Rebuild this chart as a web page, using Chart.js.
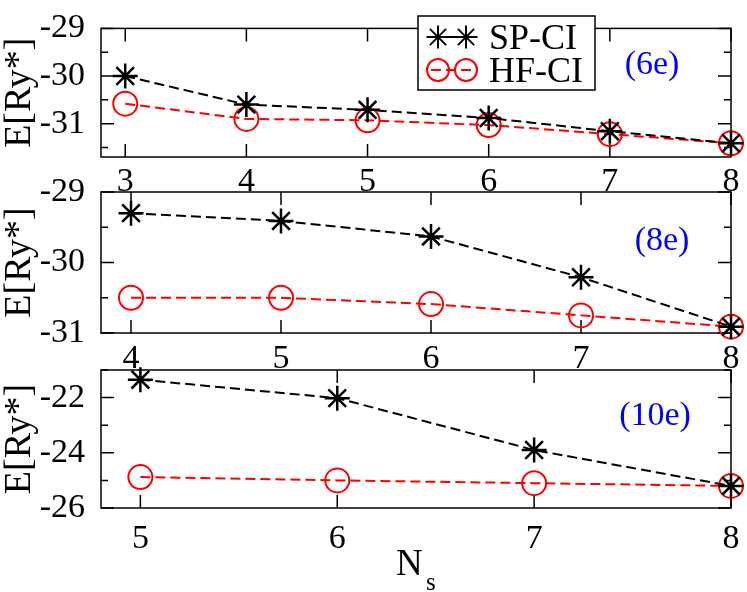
<!DOCTYPE html>
<html>
<head>
<meta charset="utf-8">
<title>SP-CI vs HF-CI</title>
<script src="https://cdn.jsdelivr.net/npm/chart.js@4.4.1/dist/chart.umd.min.js"></script>
<style>
  html, body { margin: 0; padding: 0; background: #fff; }
  #wrap { position: relative; width: 747px; height: 592px; }
  #wrap canvas { position: absolute; left: 0; top: 0; }
</style>
</head>
<body>
<div id="wrap">
  <canvas id="c6" width="747" height="592"></canvas>
  <canvas id="c8" width="747" height="592"></canvas>
  <canvas id="c10" width="747" height="592"></canvas>
</div>
<script>
// ── values ──
// 6 electrons
const ns6  = [3, 4, 5, 6, 7, 8];
const sp6  = [-30.0, -30.6, -30.71, -30.88, -31.16, -31.41];
const hf6  = [-30.58, -30.9, -30.93, -31.03, -31.22, -31.41];
const yMajor6 = [-31, -30, -29];
const yMinor6 = [-31.5, -30.5, -29.5];

// 8 electrons
const ns8  = [4, 5, 6, 7, 8];
const sp8  = [-29.3, -29.41, -29.63, -30.21, -30.91];
const hf8  = [-30.5, -30.5, -30.59, -30.75, -30.91];
const yMajor8 = [-31, -30, -29];
const yMinor8 = [-30.5, -29.5];

// 10 electrons
const ns10 = [5, 6, 7, 8];
const sp10 = [-21.35, -22.02, -23.9, -25.2];
const hf10 = [-24.88, -25.0, -25.1, -25.2];
const yMajor10 = [-26, -24, -22];
const yMinor10 = [-25, -23, -21];

const seriesNames = ['SP-CI', 'HF-CI'];
const yTitle = 'E[Ry*]';

const SERIF = "'Liberation Serif', 'Times New Roman', serif";
const W = 747, H = 592;
const PLOT_LEFT = 101, PLOT_RIGHT = 731;
const X_AXIS_H = 50;

// frame, inward ticks on all four sides, titles, tag and legend
const framePlugin = {
  id: 'frame',
  beforeDatasetsDraw(chart, args, o) {
    const ctx = chart.ctx;
    const { left, right, top, bottom } = chart.chartArea;
    const xs = chart.scales.x, ys = chart.scales.y;
    ctx.save();
    ctx.strokeStyle = '#000';
    ctx.lineWidth = 1.5;
    ctx.strokeRect(left, top, right - left, bottom - top);
    ctx.beginPath();
    xs.ticks.forEach(t => {
      const px = xs.getPixelForValue(t.value);
      ctx.moveTo(px, bottom); ctx.lineTo(px, bottom - 13);
      ctx.moveTo(px, top);    ctx.lineTo(px, top + 13);
    });
    ys.ticks.forEach(t => {
      const py = ys.getPixelForValue(t.value);
      ctx.moveTo(left, py);  ctx.lineTo(left + 13, py);
      ctx.moveTo(right, py); ctx.lineTo(right - 13, py);
    });
    o.minorY.forEach(v => {
      const py = ys.getPixelForValue(v);
      ctx.moveTo(left, py);  ctx.lineTo(left + 7, py);
      ctx.moveTo(right, py); ctx.lineTo(right - 7, py);
    });
    ctx.stroke();
    ctx.restore();
  },
  afterDraw(chart, args, o) {
    const ctx = chart.ctx;
    const { top, bottom } = chart.chartArea;
    ctx.save();

    // y title
    ctx.fillStyle = '#000';
    ctx.font = '38px ' + SERIF;
    ctx.translate(30, (top + bottom) / 2);
    ctx.rotate(-Math.PI / 2);
    ctx.textAlign = 'center';
    ctx.textBaseline = 'alphabetic';
    ctx.fillText(yTitle, 0, 0);
    ctx.rotate(Math.PI / 2);
    ctx.translate(-30, -(top + bottom) / 2);

    // blue tag
    ctx.fillStyle = '#0000ff';
    ctx.font = '34px ' + SERIF;
    ctx.textAlign = 'center';
    ctx.textBaseline = 'middle';
    ctx.fillText(o.tag, o.tagX, o.tagY);

    // x title N_s
    if (o.xTitle) {
      ctx.fillStyle = '#000';
      ctx.textAlign = 'left';
      ctx.textBaseline = 'alphabetic';
      ctx.font = '37px ' + SERIF;
      ctx.fillText('N', 396, 575);
      ctx.font = '25px ' + SERIF;
      ctx.fillText('s', 426, 590);
    }

    // legend box
    if (o.legend) {
      const bx = 418, by = 16, bw = 177, bh = 74;
      ctx.fillStyle = '#fff';
      ctx.fillRect(bx, by, bw, bh);
      ctx.strokeStyle = '#000';
      ctx.lineWidth = 1.5;
      ctx.strokeRect(bx, by, bw, bh);
      const rows = [37, 70];
      chart.data.datasets.forEach((ds, i) => {
        const y = rows[i];
        ctx.save();
        ctx.strokeStyle = ds.borderColor;
        ctx.lineWidth = ds.borderWidth;
        ctx.setLineDash(ds.borderDash);
        ctx.beginPath();
        ctx.moveTo(431, y); ctx.lineTo(474, y);
        ctx.stroke();
        ctx.setLineDash([]);
        ctx.fillStyle = 'rgba(0,0,0,0)';
        [438, 466].forEach(px => {
          Chart.helpers.drawPoint(ctx, {
            pointStyle: ds.pointStyle, radius: ds.pointRadius - 1,
            rotation: 0, borderWidth: ds.pointBorderWidth
          }, px, y);
        });
        ctx.restore();
        ctx.fillStyle = '#000';
        ctx.font = '36px ' + SERIF;
        ctx.textAlign = 'left';
        ctx.textBaseline = 'alphabetic';
        ctx.fillText(ds.label, 489, y + 11.5);
      });
    }
    ctx.restore();
  }
};

function toPoints(xs, ys) {
  return xs.map((x, i) => ({ x, y: ys[i] }));
}

function makePanel(id, p) {
  return new Chart(document.getElementById(id), {
    type: 'line',
    data: {
      datasets: [
        {
          label: seriesNames[0],
          data: toPoints(p.ns, p.sp),
          borderColor: '#000',
          borderWidth: 2,
          borderDash: [10, 5],
          pointStyle: 'star',
          pointRadius: 12.5,
          pointBorderWidth: 2.5,
          pointBorderColor: '#000',
          pointBackgroundColor: 'rgba(0,0,0,0)',
          tension: 0, fill: false, clip: false,
        },
        {
          label: seriesNames[1],
          data: toPoints(p.ns, p.hf),
          borderColor: '#ff0000',
          borderWidth: 2,
          borderDash: [10, 5],
          pointStyle: 'circle',
          pointRadius: 12,
          pointBorderWidth: 2,
          pointBorderColor: '#ff0000',
          pointBackgroundColor: 'rgba(0,0,0,0)',
          tension: 0, fill: false, clip: false,
        },
      ],
    },
    options: {
      responsive: false,
      animation: false,
      events: [],
      layout: {
        autoPadding: false,
        padding: { left: 0, right: W - PLOT_RIGHT, top: p.top, bottom: H - p.bottom - X_AXIS_H },
      },
      plugins: {
        legend: { display: false },
        tooltip: { enabled: false },
        frame: {
          minorY: p.yMinor, tag: p.tag, tagX: p.tagX, tagY: p.tagY,
          legend: !!p.legend, xTitle: !!p.xTitle,
        },
      },
      scales: {
        x: {
          type: 'linear',
          min: p.xMin, max: 8,
          bounds: 'data',
          afterFit: s => { s.height = X_AXIS_H; },
          afterBuildTicks: s => { s.ticks = p.ns.map(v => ({ value: v })); },
          grid: { display: false },
          border: { display: false },
          ticks: {
            autoSkip: false, maxRotation: 0, padding: p.xPad, color: '#000',
            font: { family: SERIF, size: 34 },
            callback: v => String(v),
          },
        },
        y: {
          type: 'linear',
          min: p.yMin, max: p.yMax,
          bounds: 'data',
          afterFit: s => { s.width = PLOT_LEFT; },
          afterBuildTicks: s => { s.ticks = p.yMajor.map(v => ({ value: v })); },
          grid: { display: false },
          border: { display: false },
          ticks: {
            padding: 8, color: '#000',
            font: { family: SERIF, size: 34 },
            callback: v => String(v),
          },
        },
      },
    },
    plugins: [framePlugin],
  });
}

makePanel('c6', {
  ns: ns6, sp: sp6, hf: hf6, yMajor: yMajor6, yMinor: yMinor6,
  xMin: 2.8, yMin: -31.7, yMax: -29, top: 16, bottom: 157, xPad: -3,
  tag: '(6e)', tagX: 652, tagY: 65, legend: true,
});
makePanel('c8', {
  ns: ns8, sp: sp8, hf: hf8, yMajor: yMajor8, yMinor: yMinor8,
  xMin: 3.8, yMin: -31, yMax: -29, top: 192, bottom: 333, xPad: -2,
  tag: '(8e)', tagX: 662, tagY: 241,
});
makePanel('c10', {
  ns: ns10, sp: sp10, hf: hf10, yMajor: yMajor10, yMinor: yMinor10,
  xMin: 4.8, yMin: -26, yMax: -21, top: 370, bottom: 508, xPad: 3,
  tag: '(10e)', tagX: 655, tagY: 416, xTitle: true,
});
</script>
</body>
</html>
